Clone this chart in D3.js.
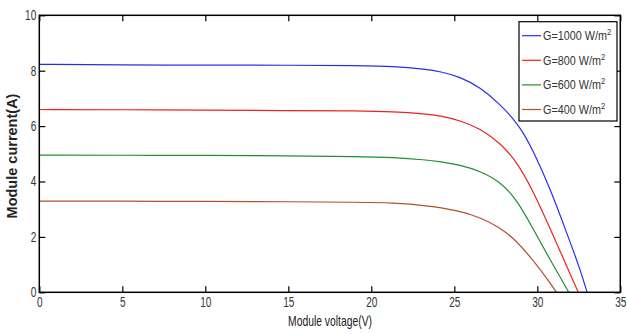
<!DOCTYPE html>
<html>
<head>
<meta charset="utf-8">
<script src="https://cdn.jsdelivr.net/npm/d3@7"></script>
<style>
  body { margin: 0; background: #fff; }
  svg { display: block; }
  .tick text { font-family: "Liberation Sans", Arial, sans-serif; font-size: 14px; fill: #333; }
</style>
</head>
<body>
<script>
// irradiance levels and colours
const seriesNames = ["G=1000 W/m", "G=800 W/m", "G=600 W/m", "G=400 W/m"];
const seriesColors = ["#2b2bf0", "#f02020", "#1f8f2f", "#b0502c"];

// voltage (V) / current (A)
const v1000 = [0, 5, 10, 15, 19.3, 21.3, 23.3, 24.14, 25.34, 26.55, 27.75, 28.96, 29.76, 30.77, 31.77, 32.57, 33.0];
const i1000 = [8.23, 8.21, 8.2, 8.2, 8.18, 8.16, 8.05, 7.97, 7.78, 7.4, 6.8, 6.0, 5.1, 3.75, 2.15, 0.85, 0];
const v800 = [0, 5, 10, 15, 19.3, 21.3, 23.3, 24.14, 25.34, 26.55, 27.75, 28.76, 29.76, 30.77, 31.77, 32.47];
const i800 = [6.6, 6.59, 6.58, 6.56, 6.55, 6.52, 6.44, 6.38, 6.2, 5.92, 5.4, 4.72, 3.65, 2.3, 0.95, 0];
const v600 = [0, 5, 10, 15, 19.3, 21.3, 23.3, 24.14, 25.34, 26.55, 27.75, 28.76, 29.76, 30.77, 31.57, 31.9];
const i600 = [4.95, 4.95, 4.94, 4.93, 4.9, 4.87, 4.78, 4.72, 4.6, 4.38, 4.0, 3.35, 2.28, 1.17, 0.35, 0];
const v400 = [0, 5, 10, 15, 19.3, 21.3, 23.3, 25.3, 26.55, 27.75, 28.76, 29.76, 30.77, 31.15];
const i400 = [3.29, 3.29, 3.28, 3.27, 3.25, 3.23, 3.14, 2.95, 2.7, 2.35, 1.85, 1.15, 0.35, 0];

const xTicks = [0, 5, 10, 15, 20, 25, 30, 35];
const yTicks = [0, 2, 4, 6, 8, 10];

const width = 627;
const height = 334;
const margin = { top: 15.3, right: 6.7, bottom: 41.7, left: 39.3 };
const sx = 0.72; // horizontal squeeze to mimic the narrow font

const x = d3.scaleLinear().domain([0, 35]).range([margin.left, width - margin.right]);
const y = d3.scaleLinear().domain([0, 10]).range([height - margin.bottom, margin.top]);

const series = [[v1000, i1000], [v800, i800], [v600, i600], [v400, i400]].map(([vs, is], k) => ({
  name: seriesNames[k],
  color: seriesColors[k],
  points: vs.map((v, j) => ({ v, i: is[j] }))
}));

const svg = d3.create("svg")
  .attr("width", width)
  .attr("height", height);

// bottom axis with labels, ticks pointing in
svg.append("g")
  .attr("transform", `translate(0,${y(0)})`)
  .call(d3.axisBottom(x).tickValues(xTicks).tickSizeInner(-6).tickSizeOuter(0).tickPadding(5));

// left axis
svg.append("g")
  .attr("transform", `translate(${x(0)},0)`)
  .call(d3.axisLeft(y).tickValues(yTicks).tickSizeInner(-6).tickSizeOuter(0).tickPadding(3));

// top + right: ticks only
svg.append("g")
  .attr("transform", `translate(0,${y(10)})`)
  .call(d3.axisTop(x).tickValues(xTicks).tickSizeInner(-6).tickSizeOuter(0).tickFormat(""));
svg.append("g")
  .attr("transform", `translate(${x(35)},0)`)
  .call(d3.axisRight(y).tickValues(yTicks).tickSizeInner(-6).tickSizeOuter(0).tickFormat(""));

svg.selectAll(".domain").remove();
svg.selectAll(".tick line").attr("stroke", "#000").attr("stroke-width", 1.2);
svg.selectAll(".tick text").attr("transform", `scale(${sx},1)`)
  .attr("x", function () { return (+d3.select(this).attr("x") || 0) / sx; });

const line = d3.line()
  .x(d => x(d.v))
  .y(d => y(d.i))
  .curve(d3.curveBasis);

svg.append("g")
  .selectAll("path")
  .data(series)
  .join("path")
  .attr("fill", "none")
  .attr("stroke", d => d.color)
  .attr("stroke-width", 1.2)
  .attr("d", d => line(d.points));

// frame
svg.append("rect")
  .attr("x", x(0))
  .attr("y", y(10))
  .attr("width", x(35) - x(0))
  .attr("height", y(0) - y(10))
  .attr("fill", "none")
  .attr("stroke", "#000")
  .attr("stroke-width", 1.5);

// legend
const lg = svg.append("g").attr("transform", "translate(519,21.7)");
lg.append("rect")
  .attr("width", 98)
  .attr("height", 99.3)
  .attr("fill", "#fff")
  .attr("stroke", "#000")
  .attr("stroke-width", 1.2);

const rows = lg.selectAll("g.row")
  .data(series)
  .join("g")
  .attr("class", "row")
  .attr("transform", (d, k) => `translate(0,${14 + k * 24.6})`);

rows.append("line")
  .attr("x1", 3).attr("x2", 22)
  .attr("stroke", d => d.color)
  .attr("stroke-width", 1.2);

const lt = rows.append("text")
  .attr("transform", "translate(24,4.5) scale(0.8,1)")
  .attr("font-family", "'Liberation Sans', Arial, sans-serif")
  .attr("font-size", 13.5)
  .attr("fill", "#333")
  .text(d => d.name);
lt.append("tspan")
  .attr("dy", -5)
  .attr("font-size", 9.5)
  .text("2");

// axis titles
svg.append("text")
  .attr("transform", "translate(330,326) scale(0.74,1)")
  .attr("text-anchor", "middle")
  .attr("font-family", "'Liberation Sans', Arial, sans-serif")
  .attr("font-size", 14)
  .attr("fill", "#222")
  .text("Module voltage(V)");

svg.append("text")
  .attr("transform", "translate(17,156) rotate(-90)")
  .attr("text-anchor", "middle")
  .attr("font-family", "'Liberation Sans', Arial, sans-serif")
  .attr("font-size", 14.5)
  .attr("font-weight", "bold")
  .attr("fill", "#222")
  .text("Module current(A)");

document.body.appendChild(svg.node());
</script>
</body>
</html>
